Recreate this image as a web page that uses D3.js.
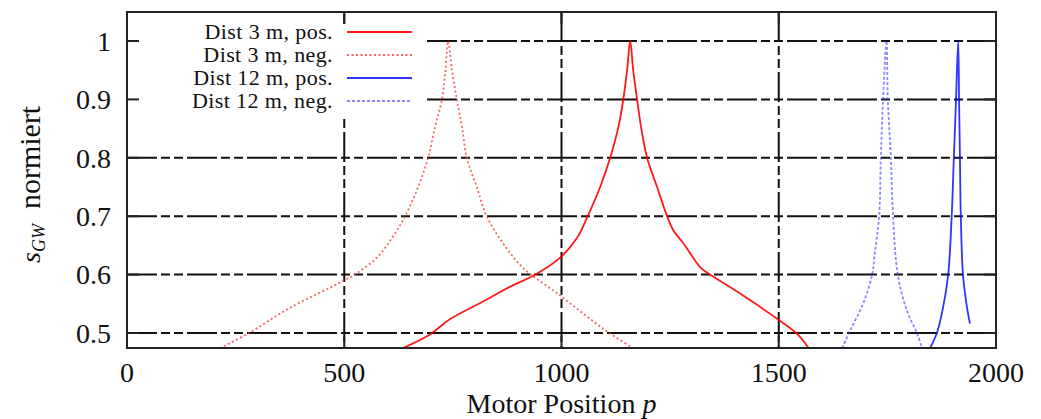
<!DOCTYPE html>
<html lang="de">

<head>
    <meta charset="UTF-8">
    <title>Motor Position</title>
    <script src="https://cdnjs.cloudflare.com/ajax/libs/d3/7.9.0/d3.min.js"></script>
    <style>
        body {
            margin: 0;
            background-color: white;
        }
        svg {
            display: block;
            font-family: "Liberation Serif", "DejaVu Serif", serif;
        }
        .grid line {
            stroke: #111;
            stroke-width: 2;
            stroke-dasharray: 30, 4, 9, 4, 9, 4;
        }
        .frame {
            fill: none;
            stroke: #222;
            stroke-width: 2;
        }
        .tick-label {
            font-size: 28px;
            fill: #111;
        }
        .legend text {
            font-size: 22px;
            letter-spacing: 0.4px;
            fill: #111;
        }
</style>
</head>

<body>
    <svg id="chart" width="1041" height="419"></svg>
    <script>
        // values: [motor position p, normalised s_GW]
        const xTicks = [0, 500, 1000, 1500, 2000];
        const yTicks = [0.5, 0.6, 0.7, 0.8, 0.9, 1];

        const dist3Pos = [[635, 0.474], [698, 0.498], [744, 0.524], [812, 0.551], [889, 0.582], [935, 0.598],
            [997, 0.629], [1036, 0.663], [1059, 0.698], [1089, 0.75], [1112, 0.80], [1131, 0.853], [1142, 0.899],
            [1151, 0.95], [1158, 1.0], [1165, 0.95], [1174, 0.9], [1183, 0.853], [1197, 0.8], [1220, 0.75],
            [1243, 0.7], [1258, 0.675], [1280, 0.654], [1319, 0.613], [1336, 0.603], [1412, 0.567],
            [1497, 0.524], [1543, 0.498], [1569, 0.474]];
        const dist3Neg = [[214, 0.474], [276, 0.498], [375, 0.543], [497, 0.589], [530, 0.603], [575, 0.629],
            [610, 0.663], [640, 0.70], [670, 0.75], [693, 0.8], [709, 0.853], [725, 0.9], [733, 0.95],
            [739, 1.0], [748, 0.95], [759, 0.9], [771, 0.853], [782, 0.8], [805, 0.75], [828, 0.7],
            [865, 0.654], [911, 0.612], [997, 0.564], [1073, 0.52], [1114, 0.498], [1165, 0.474]];
        const dist12Pos = [[1848, 0.474], [1864, 0.5], [1878, 0.543], [1890, 0.6], [1898, 0.7], [1903, 0.8],
            [1908, 0.9], [1913, 1.0], [1915, 0.9], [1917, 0.8], [1919, 0.7], [1924, 0.6], [1932, 0.55],
            [1940, 0.516]];
        const dist12Neg = [[1646, 0.474], [1664, 0.504], [1694, 0.55], [1715, 0.6], [1721, 0.636], [1731, 0.7],
            [1735, 0.8], [1740, 0.9], [1748, 1.0], [1751, 0.9], [1758, 0.8], [1763, 0.7], [1774, 0.6],
            [1795, 0.538], [1818, 0.5], [1830, 0.474]];

        const series = [
            {label: 'Dist 3 m, pos.', data: dist3Pos, color: '#ff0000', dash: null, opacity: 0.9},
            {label: 'Dist 3 m, neg.', data: dist3Neg, color: '#ff3030', dash: '2,2.5', opacity: 0.75},
            {label: 'Dist 12 m, pos.', data: dist12Pos, color: '#0000ff', dash: null, opacity: 0.8},
            {label: 'Dist 12 m, neg.', data: dist12Neg, color: '#3a3aff', dash: '3,2', opacity: 0.6},
        ];

        const plot = {left: 127, right: 996, top: 12, bottom: 348};

        const x = d3.scaleLinear().domain([0, 2000]).range([plot.left, plot.right]);
        const y = d3.scaleLinear().domain([0.4743, 1.0497]).range([plot.bottom, plot.top]);

        const svg = d3.select('#chart');

        svg.append('clipPath').attr('id', 'clip')
            .append('rect')
            .attr('x', plot.left).attr('y', plot.top)
            .attr('width', plot.right - plot.left).attr('height', plot.bottom - plot.top);

        // grid
        const grid = svg.append('g').attr('class', 'grid');
        grid.selectAll('.h').data(yTicks).enter().append('line')
            .attr('x1', plot.left).attr('x2', plot.right)
            .attr('y1', d => y(d)).attr('y2', d => y(d));
        grid.selectAll('.v').data(xTicks.slice(1, -1)).enter().append('line')
            .attr('x1', d => x(d)).attr('x2', d => x(d))
            .attr('y1', plot.top).attr('y2', plot.bottom);

        // legend background hides the grid behind the keys
        svg.append('rect')
            .attr('x', plot.left + 1).attr('y', 24)
            .attr('width', 297).attr('height', 92)
            .attr('fill', 'white');

        // tick marks on all four sides
        const ticks = svg.append('g').attr('stroke', '#222').attr('stroke-width', 2);
        yTicks.forEach(v => {
            ticks.append('line').attr('x1', plot.left).attr('x2', plot.left + 12).attr('y1', y(v)).attr('y2', y(v));
            ticks.append('line').attr('x1', plot.right).attr('x2', plot.right - 12).attr('y1', y(v)).attr('y2', y(v));
        });
        xTicks.forEach(v => {
            ticks.append('line').attr('x1', x(v)).attr('x2', x(v)).attr('y1', plot.bottom).attr('y2', plot.bottom - 12);
            ticks.append('line').attr('x1', x(v)).attr('x2', x(v)).attr('y1', plot.top).attr('y2', plot.top + 12);
        });

        // tick labels
        svg.selectAll('.ylab').data(yTicks).enter().append('text')
            .attr('class', 'tick-label')
            .attr('x', 111).attr('y', d => y(d)).attr('dy', '0.35em')
            .attr('text-anchor', 'end')
            .text(d => d3.format('~g')(d));
        svg.selectAll('.xlab').data(xTicks).enter().append('text')
            .attr('class', 'tick-label')
            .attr('x', d => x(d)).attr('y', 382)
            .attr('text-anchor', 'middle')
            .text(d => d);

        // curves
        const line = d3.line()
            .x(d => x(d[0]))
            .y(d => y(d[1]))
            .curve(d3.curveCatmullRom.alpha(0.5));
        const curves = svg.append('g').attr('clip-path', 'url(#clip)');
        series.forEach(s => {
            curves.append('path')
                .attr('d', line(s.data))
                .attr('fill', 'none')
                .attr('stroke', s.color)
                .attr('stroke-width', 1.8)
                .attr('stroke-opacity', s.opacity)
                .attr('stroke-dasharray', s.dash);
        });

        // frame
        svg.append('rect').attr('class', 'frame')
            .attr('x', plot.left).attr('y', plot.top)
            .attr('width', plot.right - plot.left).attr('height', plot.bottom - plot.top);

        // legend
        const legend = svg.append('g').attr('class', 'legend');
        series.forEach((s, i) => {
            const ly = 32 + i * 23;
            legend.append('text')
                .attr('x', 333).attr('y', ly + 7)
                .attr('text-anchor', 'end')
                .text(s.label);
            legend.append('line')
                .attr('x1', 347).attr('x2', 412).attr('y1', ly).attr('y2', ly)
                .attr('stroke', s.color)
                .attr('stroke-width', 1.8)
                .attr('stroke-opacity', s.opacity)
                .attr('stroke-dasharray', s.dash);
        });

        // axis titles
        const xTitle = svg.append('text')
            .attr('x', (plot.left + plot.right) / 2).attr('y', 413)
            .attr('text-anchor', 'middle')
            .attr('font-size', 28).attr('fill', '#111');
        xTitle.append('tspan').text('Motor Position ');
        xTitle.append('tspan').attr('font-style', 'italic').text('p');

        const yTitle = svg.append('text')
            .attr('transform', 'translate(40,263) rotate(-90)')
            .attr('fill', '#111');
        yTitle.append('tspan').attr('font-style', 'italic').attr('font-size', 28).text('s');
        yTitle.append('tspan').attr('font-style', 'italic').attr('font-size', 18).attr('dy', 5).text('GW');
        yTitle.append('tspan').attr('font-size', 30).attr('dy', -5).text('\u2002normiert');
    </script>
</body>

</html>
